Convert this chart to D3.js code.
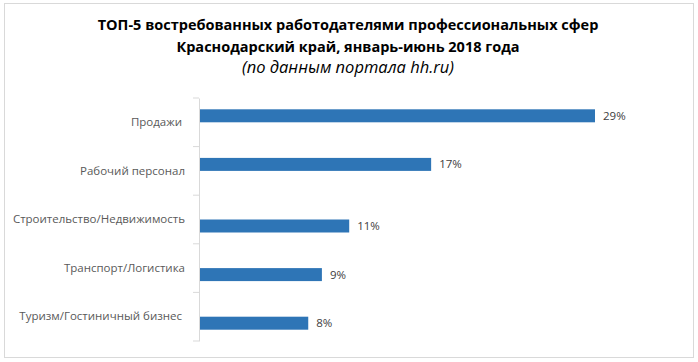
<!DOCTYPE html>
<html>
<head>
<meta charset="utf-8">
<script src="https://cdn.jsdelivr.net/npm/d3@7"></script>
<style>
  body { margin: 0; background: #fff; }
  text { font-family: "Open Sans", sans-serif; }
</style>
</head>
<body>
<div id="bar-graph"></div>
<script>
// Data
const categories = ["Продажи ", "Рабочий персонал", "Строительство/Недвижимость", "Транспорт/Логистика", "Туризм/Гостиничный бизнес "];
// two series in the source chart: the first two bars sit in the upper slot, the rest in the lower one
const seriesUpper = [29, 17, null, null, null];
const seriesLower = [null, null, 11, 9, 8];
const titleLines = [
    "ТОП-5 востребованных работодателями профессиональных сфер",
    "Краснодарский край, январь-июнь 2018 года",
    "(по данным портала hh.ru)"
];

let width = 698, height = 362;

let svg = d3.select("#bar-graph")
    .append("svg")
    .attr("width", width)
    .attr("height", height);

// chart border
svg.append("rect")
    .attr("x", 4.5).attr("y", 3.5)
    .attr("width", 689).attr("height", 354)
    .attr("fill", "#fff")
    .attr("stroke", "#d9d9d9");

// Title
svg.selectAll(".title")
    .data(titleLines)
    .enter()
    .append("text")
    .attr("class", "title")
    .attr("x", 348)
    .attr("y", (d, i) => [30, 51.5, 73][i])
    .attr("text-anchor", "middle")
    .style("font-size", (d, i) => i == 2 ? "16.5px" : "14.5px")
    .style("font-weight", (d, i) => i == 2 ? "normal" : "bold")
    .style("font-style", (d, i) => i == 2 ? "italic" : "normal")
    .style("fill", "#000")
    .text(d => d);

// Scales
let y = d3.scaleBand()
    .domain(categories)
    .range([98, 341]);

let sub = d3.scaleBand()
    .domain(["upper", "lower"])
    .range([0, y.bandwidth()])
    .paddingOuter(0.87)
    .paddingInner(0);

let x = d3.scaleLinear()
    .domain([0, 29])
    .range([199, 595]);

// Bars
let rows = [];
categories.forEach((c, i) => {
    if (seriesUpper[i] != null) rows.push({ cat: c, key: "upper", value: seriesUpper[i] });
    if (seriesLower[i] != null) rows.push({ cat: c, key: "lower", value: seriesLower[i] });
});

svg.selectAll(".bar")
    .data(rows)
    .enter()
    .append("rect")
    .attr("class", "bar")
    .attr("x", x(0))
    .attr("y", d => y(d.cat) + sub(d.key))
    .attr("width", d => x(d.value) - x(0))
    .attr("height", sub.bandwidth())
    .attr("fill", "#2e75b6");

// Value labels
svg.selectAll(".val")
    .data(rows)
    .enter()
    .append("text")
    .attr("class", "val")
    .attr("x", d => x(d.value) + 8)
    .attr("y", d => y(d.cat) + sub(d.key) + sub.bandwidth() / 2)
    .attr("dy", "0.35em")
    .style("font-size", "11.5px")
    .style("fill", "#404040")
    .text(d => d.value + "%");

// Y axis: labels at band centres, tick marks at band boundaries
let yAxis = svg.append("g")
    .attr("transform", "translate(" + x(0) + ",0)")
    .call(d3.axisLeft(y).tickSize(0).tickPadding(14));
yAxis.select(".domain").attr("stroke", "#d9d9d9");
yAxis.selectAll("text")
    .style("font-family", "'Open Sans', sans-serif")
    .style("font-size", "11.5px")
    .style("fill", "#595959")
    .style("white-space", "pre");

let bounds = categories.map(c => y(c)).concat([y.range()[1]]);
yAxis.selectAll(".bound")
    .data(bounds)
    .enter()
    .append("line")
    .attr("class", "bound")
    .attr("x1", -6).attr("x2", 0)
    .attr("y1", d => d).attr("y2", d => d)
    .attr("stroke", "#d9d9d9");
</script>
</body>
</html>
